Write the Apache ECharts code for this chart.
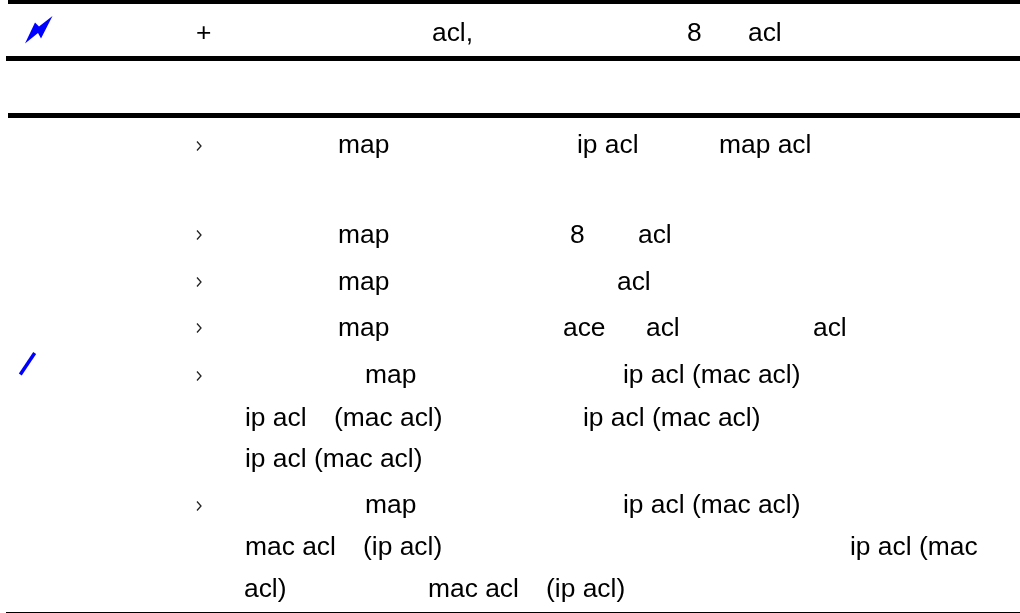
<!DOCTYPE html>
<html>
<head>
<meta charset="utf-8">
<style>html,body{margin:0;padding:0;background:#fff}#main{width:1020px;height:613px}</style>
<script src="https://cdn.jsdelivr.net/npm/echarts@6/dist/echarts.min.js"></script>
</head>
<body>
<div id="main"></div>
<script>
// text fragments of the page: [left x, row y, string]
var textRows = [
  [196, 34, '+'], [432, 34, 'acl,'], [687, 34, '8'], [748, 34, 'acl'],
  [338, 146, 'map'], [577, 146, 'ip acl'], [719, 146, 'map acl'],
  [338, 236, 'map'], [570, 236, '8'], [638, 236, 'acl'],
  [338, 283, 'map'], [617, 283, 'acl'],
  [338, 329, 'map'], [563, 329, 'ace'], [646, 329, 'acl'], [813, 329, 'acl'],
  [365, 376, 'map'], [623, 376, 'ip acl (mac acl)'],
  [245, 419, 'ip acl'], [334, 419, '(mac acl)'], [583, 419, 'ip acl (mac acl)'],
  [245, 460, 'ip acl (mac acl)'],
  [365, 506, 'map'], [623, 506, 'ip acl (mac acl)'],
  [245, 548, 'mac acl'], [363, 548, '(ip acl)'], [850, 548, 'ip acl (mac'],
  [244, 590, 'acl)'], [428, 590, 'mac acl'], [546, 590, '(ip acl)']
];
var bulletRows = [146, 235, 282, 328, 376, 506];
// horizontal rules: [x start, top y, thickness]
var rules = [[8, 0, 4], [6, 56, 5], [8, 113, 5], [6, 612, 1]];

var chart = echarts.init(document.getElementById('main'), null, {width: 1020, height: 613});
var graphics = [];

rules.forEach(function (r) {
  graphics.push({
    type: 'rect',
    shape: {x: r[0], y: r[1], width: 1020 - r[0], height: r[2]},
    style: {fill: '#000'}
  });
});

textRows.forEach(function (t) {
  graphics.push({
    type: 'text',
    x: t[0], y: t[1],
    style: {text: t[2], fill: '#000', font: '26.4px "Liberation Sans", Arial, sans-serif', textVerticalAlign: 'middle'}
  });
});

bulletRows.forEach(function (y) {
  graphics.push({
    type: 'polyline',
    shape: {points: [[197, y - 4.5], [201, y], [197, y + 4.5]]},
    style: {stroke: '#222', lineWidth: 1.3, fill: null}
  });
});

// lightning icon, top left
graphics.push({
  type: 'polygon',
  shape: {points: [[25, 43.5], [35, 22.5], [39, 26.5], [52.5, 16], [41, 38.5], [38, 33]]},
  style: {fill: '#0000ff'}
});
// pencil stroke beside the notes
graphics.push({
  type: 'line',
  shape: {x1: 20.3, y1: 374.5, x2: 34.7, y2: 353},
  style: {stroke: '#0000ff', lineWidth: 3.5}
});

chart.setOption({
  animation: false,
  graphic: graphics
});
</script>
</body>
</html>
